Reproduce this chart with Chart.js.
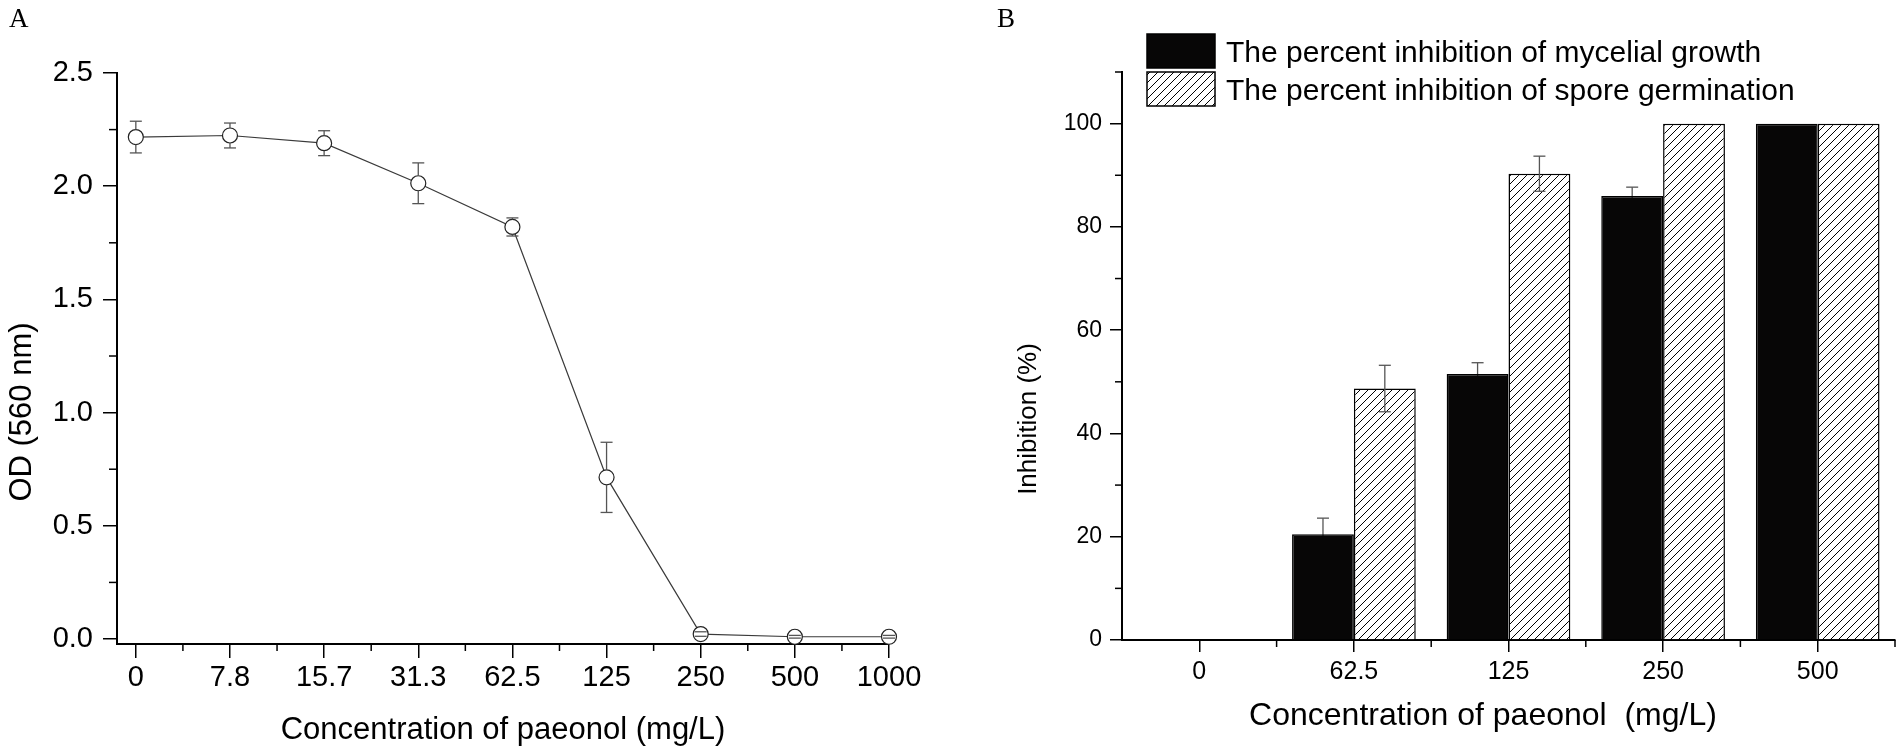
<!DOCTYPE html>
<html>
<head>
<meta charset="utf-8">
<script src="https://cdn.jsdelivr.net/npm/chart.js@4.4.0/dist/chart.umd.min.js"></script>
<style>
  html, body { margin: 0; padding: 0; background: #fff; }
  #wrap { position: relative; width: 1902px; height: 752px; overflow: hidden; }
  canvas { position: absolute; top: 0; }
  #chartA { left: 0; }
  #chartB { left: 950px; }
</style>
</head>
<body>
<div id="wrap">
  <canvas id="chartA" width="950" height="752" style="width:950px;height:752px"></canvas>
  <canvas id="chartB" width="952" height="752" style="width:952px;height:752px"></canvas>
</div>
<script>
// Panel A: OD (560 nm) against paeonol concentration
const concA = ["0", "7.8", "15.7", "31.3", "62.5", "125", "250", "500", "1000"];
const odMean = [2.217, 2.224, 2.19, 2.013, 1.82, 0.714, 0.022, 0.01, 0.01];
const odErr = [0.07, 0.055, 0.055, 0.09, 0.04, 0.155, 0.01, 0.006, 0.006];
const odTicks = [0, 0.5, 1.0, 1.5, 2.0, 2.5];

// Panel B: percent inhibition
const concB = ["0", "62.5", "125", "250", "500"];
const mycelial = [0, 20.5, 51.5, 86.0, 100];
const mycelialErr = [0, 3.1, 2.2, 1.7, 0];
const spore = [0, 48.7, 90.3, 100, 100];
const sporeErr = [0, 4.5, 3.4, 0, 0];
const inhibTicks = [0, 20, 40, 60, 80, 100];
const seriesNames = [
  "The percent inhibition of mycelial growth",
  "The percent inhibition of spore germination",
];

const SANS = "'Liberation Sans', Arial, sans-serif";
const SERIF = "'Liberation Serif', 'Times New Roman', serif";

// diagonal hatch used for the spore germination bars
function makeHatch(ctx) {
  const c = document.createElement("canvas");
  c.width = 8;
  c.height = 8;
  const g = c.getContext("2d");
  g.fillStyle = "#fff";
  g.fillRect(0, 0, 8, 8);
  g.strokeStyle = "#000";
  g.lineWidth = 1;
  g.beginPath();
  g.moveTo(0, 8); g.lineTo(8, 0);
  g.moveTo(-2, 2); g.lineTo(2, -2);
  g.moveTo(6, 10); g.lineTo(10, 6);
  g.stroke();
  return ctx.createPattern(c, "repeat");
}

function drawPanelLabel(ctx, text, x, y) {
  ctx.save();
  ctx.fillStyle = "#000";
  ctx.font = "27px " + SERIF;
  ctx.textBaseline = "alphabetic";
  ctx.fillText(text, x, y);
  ctx.restore();
}

function drawText(ctx, text, x, y, size, rotate) {
  ctx.save();
  ctx.translate(x, y);
  if (rotate) ctx.rotate(-Math.PI / 2);
  ctx.fillStyle = "#000";
  ctx.textAlign = "center";
  ctx.textBaseline = "middle";
  ctx.font = size + "px " + SANS;
  ctx.fillText(text, 0, 0);
  ctx.restore();
}

function line(ctx, x1, y1, x2, y2) {
  ctx.beginPath();
  ctx.moveTo(x1, y1);
  ctx.lineTo(x2, y2);
  ctx.stroke();
}

// ---------- chart A ----------
const panelAExtras = {
  id: "panelAExtras",
  afterDatasetsDraw(chart) {
    const ctx = chart.ctx;
    const xs = chart.scales.x;
    const ys = chart.scales.y;
    const r = 7.5;
    ctx.save();
    ctx.strokeStyle = "#555";
    ctx.lineWidth = 1.3;
    odMean.forEach((v, i) => {
      const px = xs.getPixelForValue(i);
      const cy = ys.getPixelForValue(v);
      const top = ys.getPixelForValue(v + odErr[i]);
      const bot = ys.getPixelForValue(v - odErr[i]);
      if (top < cy - r) line(ctx, px, top, px, cy - r);
      if (bot > cy + r) line(ctx, px, cy + r, px, bot);
      line(ctx, px - 6, top, px + 6, top);
      line(ctx, px - 6, bot, px + 6, bot);
    });
    ctx.restore();
  },
  afterDraw(chart) {
    const ctx = chart.ctx;
    const xs = chart.scales.x;
    const ys = chart.scales.y;
    ctx.save();
    ctx.strokeStyle = "#000";
    ctx.lineWidth = 1.5;
    // minor ticks
    for (let i = 0; i < concA.length - 1; i++) {
      const px = xs.getPixelForValue(i + 0.5);
      line(ctx, px, xs.top, px, xs.top + 7);
    }
    for (let i = 0; i < odTicks.length - 1; i++) {
      const py = ys.getPixelForValue(odTicks[i] + 0.25);
      line(ctx, ys.right - 8, py, ys.right, py);
    }
    ctx.restore();
    // the y title sits lower than the axis centre in the original
    drawText(ctx, "OD (560 nm)", 22, 412, 31, true);
    drawPanelLabel(ctx, "A", 9, 27);
  },
};

new Chart(document.getElementById("chartA"), {
  type: "line",
  data: {
    datasets: [
      {
        label: "OD",
        data: odMean.map((v, i) => ({ x: i, y: v })),
        borderColor: "#3a3a3a",
        borderWidth: 1.2,
        pointRadius: 7.5,
        pointHoverRadius: 7.5,
        pointBackgroundColor: "#fff",
        pointBorderColor: "#222",
        pointBorderWidth: 1.2,
        tension: 0,
        clip: false,
      },
    ],
  },
  options: {
    responsive: false,
    animation: false,
    layout: { padding: { left: 0, top: 73, right: 61, bottom: 0 } },
    plugins: { legend: { display: false }, tooltip: { enabled: false } },
    scales: {
      x: {
        type: "linear",
        min: -0.2,
        max: 8,
        afterBuildTicks: (s) => {
          s.ticks = concA.map((_, i) => ({ value: i }));
        },
        afterFit: (s) => {
          s.height = 108;
        },
        ticks: {
          callback: (v) => concA[v],
          font: { family: SANS, size: 29 },
          color: "#000",
          padding: 3,
          maxRotation: 0,
          autoSkip: false,
        },
        grid: {
          display: true,
          drawOnChartArea: false,
          drawTicks: true,
          tickLength: 14,
          color: "#000",
          lineWidth: 1.5,
        },
        border: { display: true, color: "#000", width: 2 },
        title: {
          display: true,
          text: "Concentration of paeonol (mg/L)",
          font: { family: SANS, size: 31 },
          color: "#000",
          padding: { top: 0, bottom: 3 },
        },
      },
      y: {
        type: "linear",
        min: -0.022,
        max: 2.5,
        afterBuildTicks: (s) => {
          s.ticks = odTicks.map((v) => ({ value: v }));
        },
        afterFit: (s) => {
          s.width = 117;
        },
        ticks: {
          callback: (v) => v.toFixed(1),
          font: { family: SANS, size: 29 },
          color: "#000",
          padding: 10,
        },
        grid: {
          display: true,
          drawOnChartArea: false,
          drawTicks: true,
          tickLength: 14,
          color: "#000",
          lineWidth: 1.5,
        },
        border: { display: true, color: "#000", width: 2 },
      },
    },
  },
  plugins: [panelAExtras],
});

// ---------- chart B ----------
const canvasB = document.getElementById("chartB");
const hatch = makeHatch(canvasB.getContext("2d"));

function drawBarErrors(chart, dsIndex, errs) {
  const ctx = chart.ctx;
  const ys = chart.scales.y;
  const meta = chart.getDatasetMeta(dsIndex);
  const vals = chart.data.datasets[dsIndex].data;
  ctx.save();
  ctx.strokeStyle = "#555";
  ctx.lineWidth = 1.3;
  meta.data.forEach((bar, i) => {
    if (!errs[i]) return;
    const top = ys.getPixelForValue(vals[i] + errs[i]);
    const bot = ys.getPixelForValue(vals[i] - errs[i]);
    line(ctx, bar.x, top, bar.x, bot);
    line(ctx, bar.x - 6, top, bar.x + 6, top);
    line(ctx, bar.x - 6, bot, bar.x + 6, bot);
  });
  ctx.restore();
}

const panelBExtras = {
  id: "panelBExtras",
  beforeDatasetsDraw(chart) {
    // solid bars hide the lower half of their error bars
    drawBarErrors(chart, 0, mycelialErr);
  },
  afterDatasetsDraw(chart) {
    drawBarErrors(chart, 1, sporeErr);
  },
  afterDraw(chart) {
    const ctx = chart.ctx;
    const xs = chart.scales.x;
    const ys = chart.scales.y;
    ctx.save();
    ctx.strokeStyle = "#000";
    ctx.lineWidth = 1.5;
    const step = xs.getPixelForValue(1) - xs.getPixelForValue(0);
    for (let i = 0; i < concB.length; i++) {
      const px = xs.getPixelForValue(i) + step / 2;
      line(ctx, px, xs.top, px, xs.top + 7);
    }
    for (let v = 10; v <= 110; v += 20) {
      const py = ys.getPixelForValue(v);
      line(ctx, ys.right - 7, py, ys.right, py);
    }

    // legend
    const ds = chart.data.datasets;
    const boxes = [34, 72];
    ctx.font = "30px " + SANS;
    ctx.textBaseline = "alphabetic";
    ctx.lineWidth = 1.5;
    boxes.forEach((by, k) => {
      ctx.fillStyle = ds[k].backgroundColor;
      ctx.fillRect(197, by, 68, 34);
      ctx.strokeStyle = "#000";
      ctx.strokeRect(197, by, 68, 34);
      ctx.fillStyle = "#000";
      ctx.fillText(ds[k].label, 276, by + 28);
    });
    ctx.restore();

    // axis titles, placed where the original has them (off the axis centre)
    drawText(ctx, "Inhibition (%)", 79, 419, 26, true);
    drawText(ctx, "Concentration of paeonol  (mg/L)", 533, 716, 32, false);
    drawPanelLabel(ctx, "B", 47, 27);
  },
};

new Chart(canvasB, {
  type: "bar",
  data: {
    labels: concB,
    datasets: [
      {
        label: seriesNames[0],
        data: mycelial,
        backgroundColor: "#070606",
        borderColor: "#000",
        borderWidth: 1.5,
      },
      {
        label: seriesNames[1],
        data: spore,
        backgroundColor: hatch,
        borderColor: "#000",
        borderWidth: 1.5,
      },
    ],
  },
  options: {
    responsive: false,
    animation: false,
    categoryPercentage: 0.8,
    barPercentage: 1.0,
    layout: { padding: { left: 0, top: 72, right: 7, bottom: 0 } },
    plugins: { legend: { display: false }, tooltip: { enabled: false } },
    scales: {
      x: {
        type: "category",
        offset: true,
        afterFit: (s) => {
          s.height = 112;
        },
        ticks: {
          font: { family: SANS, size: 25 },
          color: "#000",
          padding: 5,
          maxRotation: 0,
        },
        grid: {
          display: true,
          offset: false,
          drawOnChartArea: false,
          drawTicks: true,
          tickLength: 12,
          color: "#000",
          lineWidth: 1.5,
        },
        border: { display: true, color: "#000", width: 2 },
      },
      y: {
        type: "linear",
        min: 0,
        max: 110,
        afterBuildTicks: (s) => {
          s.ticks = inhibTicks.map((v) => ({ value: v }));
        },
        afterFit: (s) => {
          s.width = 172;
        },
        ticks: {
          font: { family: SANS, size: 23 },
          color: "#000",
          padding: 8,
        },
        grid: {
          display: true,
          drawOnChartArea: false,
          drawTicks: true,
          tickLength: 12,
          color: "#000",
          lineWidth: 1.5,
        },
        border: { display: true, color: "#000", width: 2 },
      },
    },
  },
  plugins: [panelBExtras],
});
</script>
</body>
</html>
